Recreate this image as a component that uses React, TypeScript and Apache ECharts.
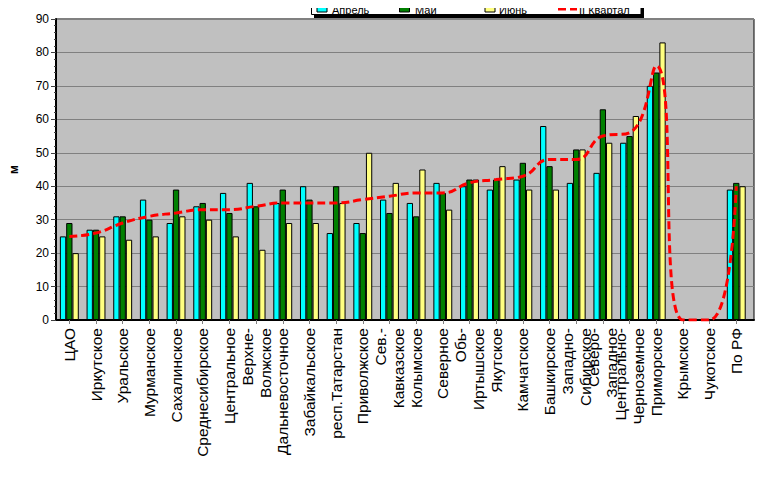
import React, { useEffect, useRef } from "react";
import * as echarts from "echarts";

// Regions along the category axis ("\n" splits a name onto two label lines)
const categories = [
  "ЦАО", "Иркутское", "Уральское", "Мурманское", "Сахалинское", "Среднесибирское",
  "Центральное", "Верхне-\nВолжское", "Дальневосточное", "Забайкальское", "респ.Татарстан",
  "Приволжское", "Сев.-\nКавказское", "Колымское", "Северное", "Обь-\nИртышское", "Якутское",
  "Камчатское", "Башкирское", "Западно-\nСибирское", "Северо-\nЗападное",
  "Центрально-\nЧерноземное", "Приморское", "Крымское", "Чукотское", "По РФ",
];

const april = [25, 27, 31, 36, 29, 34, 38, 41, 35, 40, 26, 29, 36, 35, 41, 40, 39, 42, 58, 41, 44, 53, 70, 0, 0, 39];
const may = [29, 27, 31, 30, 39, 35, 32, 34, 39, 36, 40, 26, 32, 31, 38, 42, 42, 47, 46, 51, 63, 55, 74, 0, 0, 41];
const june = [20, 25, 24, 25, 31, 30, 25, 21, 29, 29, 35, 50, 41, 45, 33, 42, 46, 39, 39, 51, 53, 61, 83, 0, 0, 40];
const quarter = [25, 26, 29, 31, 32, 33, 33, 34, 35, 35, 35, 36, 37, 38, 38, 41, 42, 43, 48, 48, 55, 56, 76, 0, 0, 40];

const seriesNames = ["Апрель", "Май", "Июнь", "II Квартал"];
const yMin = 0;
const yMax = 90;
const yStep = 10;

const FONT = "'Liberation Sans', Arial, sans-serif";

export default function App() {
  const ref = useRef<HTMLDivElement>(null);

  useEffect(() => {
    if (!ref.current) return;
    const chart = echarts.init(ref.current, null, { renderer: "svg" });

    const barColors = ["#00ffff", "#008000", "#ffff80"];
    const barData = [april, may, june];

    const bars = barData.map((data, i) => ({
      name: seriesNames[i],
      type: "bar",
      xAxisIndex: 1,
      yAxisIndex: 1,
      data,
      barWidth: 6.3,
      barGap: "0%",
      itemStyle: { color: barColors[i], borderColor: "#000", borderWidth: 1 },
      z: 2,
    }));

    // Legend box drawn by hand: shadow, frame, swatches and names
    const legendText = (x: number, text: string) => ({
      type: "text",
      x,
      y: 9.5,
      z: 10,
      style: { text, font: `11px ${FONT}`, fill: "#000", verticalAlign: "middle" },
    });
    const swatch = (x: number, color: string) => ({
      type: "rect",
      z: 10,
      shape: { x, y: 6, width: 10, height: 6 },
      style: { fill: color, stroke: "#000", lineWidth: 1 },
    });

    chart.setOption({
      animation: false,
      backgroundColor: "#ffffff",
      textStyle: { fontFamily: FONT },
      grid: [
        { left: 51, top: 19, width: 703, height: 301, show: true, backgroundColor: "#c0c0c0", borderColor: "#000", borderWidth: 1 },
        { left: 56, top: 19, width: 693.6, height: 301 },
      ],
      xAxis: [
        {
          gridIndex: 0,
          type: "value",
          min: 0,
          max: 1,
          axisLine: { show: true, lineStyle: { color: "#000", width: 2 } },
          axisTick: { show: false },
          axisLabel: { show: false },
          splitLine: { show: false },
        },
        {
          gridIndex: 1,
          type: "category",
          data: categories,
          axisLine: { show: false },
          axisTick: { show: true, alignWithLabel: true, length: 4, lineStyle: { color: "#808080" } },
          axisLabel: { rotate: 90, interval: 0, fontSize: 15.5, lineHeight: 18, color: "#000", margin: 8, fontFamily: FONT },
          splitLine: { show: false },
        },
      ],
      yAxis: [
        {
          gridIndex: 0,
          type: "value",
          min: yMin,
          max: yMax,
          interval: yStep,
          name: "м",
          nameLocation: "middle",
          nameGap: 36,
          nameRotate: 90,
          nameTextStyle: { fontSize: 12, fontWeight: "bold", color: "#000", fontFamily: FONT },
          axisLine: { show: true, lineStyle: { color: "#000", width: 2 } },
          axisTick: { show: true, length: 5, lineStyle: { color: "#404040" } },
          minorTick: { show: true, splitNumber: 5, length: 2, lineStyle: { color: "#404040" } },
          axisLabel: { fontSize: 12, color: "#000", margin: 7, fontFamily: FONT },
          splitLine: { show: true, lineStyle: { color: "#808080", width: 1 } },
        },
        { gridIndex: 1, type: "value", min: yMin, max: yMax, interval: yStep, show: false, splitLine: { show: false } },
      ],
      series: [
        ...bars,
        {
          name: seriesNames[3],
          type: "line",
          xAxisIndex: 1,
          yAxisIndex: 1,
          data: quarter,
          smooth: true,
          showSymbol: false,
          lineStyle: { color: "#ff0000", width: 3, type: [8, 4] },
          z: 5,
        },
      ],
      graphic: [
        { type: "rect", z: 8, shape: { x: 314, y: 3, width: 330, height: 15 }, style: { fill: "#000" } },
        { type: "rect", z: 9, shape: { x: 311.5, y: -2.5, width: 329.5, height: 17 }, style: { fill: "#fff", stroke: "#000", lineWidth: 1 } },
        swatch(317, barColors[0]),
        legendText(332, seriesNames[0]),
        swatch(399.5, barColors[1]),
        legendText(415, seriesNames[1]),
        swatch(485, barColors[2]),
        legendText(499, seriesNames[2]),
        { type: "line", z: 10, shape: { x1: 558, y1: 9, x2: 566, y2: 9 }, style: { stroke: "#ff0000", lineWidth: 3 } },
        { type: "line", z: 10, shape: { x1: 570, y1: 9, x2: 577, y2: 9 }, style: { stroke: "#ff0000", lineWidth: 3 } },
        legendText(579, seriesNames[3]),
      ],
    });

    return () => chart.dispose();
  }, []);

  return <div ref={ref} style={{ width: 777, height: 479, margin: -8 }} />;
}
